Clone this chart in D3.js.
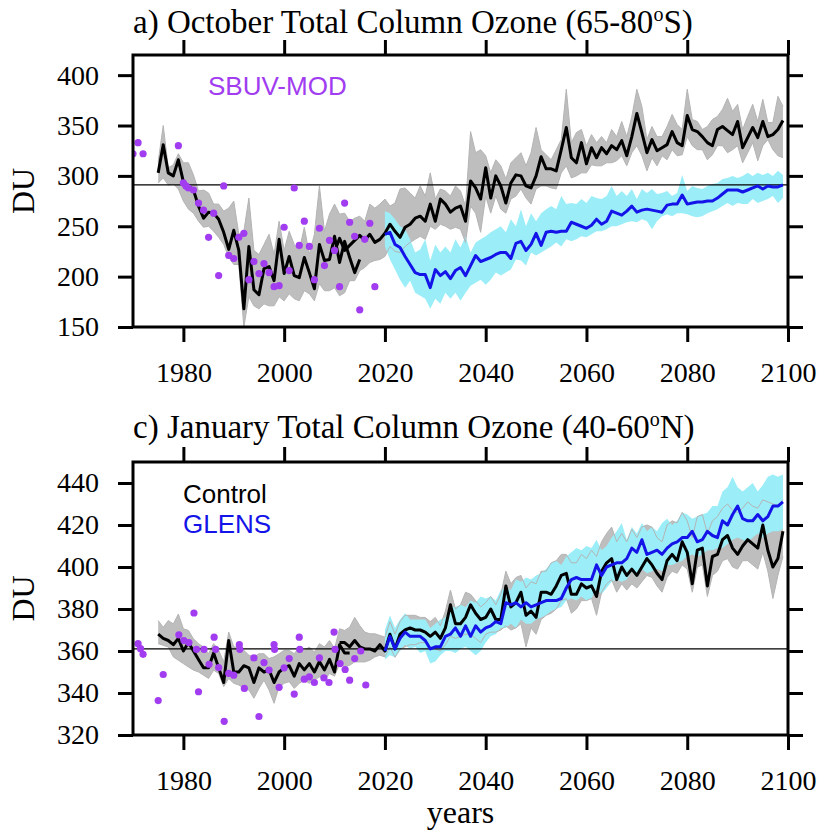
<!DOCTYPE html>
<html>
<head>
<meta charset="utf-8">
<script src="https://cdn.jsdelivr.net/npm/d3@7"></script>
<style>
  body { margin: 0; background: #fff; }
  svg { display: block; }
</style>
</head>
<body>
<div id="chart"></div>
<script>
// ---- a) October, 65-80S ----
var octHistYears = d3.range(1975, 2016);
var octHist = [303, 331, 303, 300, 316, 294, 290, 286, 270, 258,
  264, 263, 257, 244, 227, 246, 226, 168, 230, 187,
  182, 208, 210, 196, 237, 203, 220, 201, 199, 219,
  204, 188, 232, 216, 217, 240, 214, 235, 219, 204, 217];

var octCtlYears = d3.range(2010, 2100);
var octCtl = [225, 238, 226, 231, 236, 241, 236, 242, 234, 237,
  243, 252, 245, 239, 249, 252, 258, 260, 255, 272,
  255, 277, 272, 264, 268, 270, 255, 295, 288, 277,
  308, 278, 300, 290, 273, 293, 301, 300, 290, 288,
  300, 319, 307, 307, 305, 326, 348, 318, 313, 333,
  312, 328, 318, 328, 322, 330, 326, 335, 320, 339,
  362, 343, 323, 336, 325, 328, 331, 344, 333, 330,
  360, 346, 344, 339, 333, 330, 346, 349, 345, 341,
  354, 328, 338, 348, 338, 354, 339, 341, 346, 355];

var octGlensYears = d3.range(2020, 2100);
var octGlens = [242, 244, 232, 229, 220, 212, 204, 202, 202, 189,
  207, 201, 205, 198, 206, 209, 201, 211, 221, 215,
  217, 219, 222, 224, 224, 218, 233, 235, 226, 232,
  243, 231, 244, 245, 244, 245, 245, 254, 252, 250,
  248, 251, 257, 252, 255, 265, 263, 261, 265, 270,
  264, 266, 267, 266, 265, 264, 271, 272, 272, 281,
  272, 273, 274, 274, 275, 275, 278, 282, 286, 286,
  286, 284, 286, 288, 290, 287, 290, 289, 289, 291];

// control spread (grey), 1975-2099
var octGreyYears = d3.range(1975, 2100);
var octGreyHi = [314, 350, 308, 311, 322, 313, 313, 301, 285, 286,
  283, 272, 272, 265, 268, 275, 242, 245, 278, 226,
  222, 232, 242, 222, 255, 226, 245, 232, 226, 249,
  222, 242, 290, 245, 262, 272, 262, 263, 255, 258,
  260, 255, 272, 268, 272,
  277, 270, 273, 287, 288, 283, 278, 290, 280, 303,
  277, 287, 285, 280, 290, 285, 270, 344, 323, 326,
  320, 303, 316, 310, 297, 313, 318, 323, 310, 323,
  348, 326, 321, 316, 326, 336, 386, 333, 343, 346,
  330, 341, 333, 339, 333, 346, 339, 354, 339, 359,
  386, 369, 336, 349, 339, 339, 349, 361, 351, 346,
  386, 356, 354, 346, 349, 356, 359, 366, 377, 364,
  371, 346, 359, 371, 354, 376, 353, 353, 379, 369];
var octGreyLo = [293, 298, 291, 292, 287, 275, 267, 263, 255, 249,
  250, 245, 239, 232, 219, 212, 212, 150, 180, 171,
  168, 173, 171, 171, 180, 176, 183, 178, 176, 186,
  183, 176, 193, 186, 186, 189, 181, 184, 196, 196,
  206, 209, 214, 216, 217,
  220, 230, 225, 224, 230, 234, 237, 240, 237, 250,
  247, 252, 250, 247, 249, 247, 234, 270, 263, 244,
  280, 263, 280, 267, 263, 277, 280, 287, 278, 272,
  287, 290, 290, 288, 287, 303, 310, 298, 300, 303,
  303, 311, 310, 310, 313, 313, 315, 320, 310, 323,
  330, 320, 305, 318, 310, 320, 316, 326, 320, 321,
  339, 330, 326, 326, 316, 321, 330, 330, 323, 326,
  330, 313, 323, 333, 315, 330, 336, 326, 320, 318];

// GLENS spread (cyan), 2020-2099
var octCyanHi = [265, 263, 257, 250, 247, 237, 224, 227, 237, 216,
  232, 224, 230, 224, 237, 229, 240, 224, 234, 237,
  240, 244, 247, 250, 244, 257, 250, 267, 250, 263,
  255, 263, 267, 270, 267, 280, 272, 273, 272, 277,
  273, 280, 278, 277, 280, 290, 280, 285, 280, 287,
  277, 287, 283, 287, 282, 283, 285, 280, 283, 301,
  285, 290, 288, 287, 290, 292, 293, 297, 298, 300,
  298, 300, 303, 300, 303, 301, 303, 300, 305, 301];
var octCyanLo = [230, 217, 207, 197, 189, 196, 184, 181, 178, 168,
  178, 173, 184, 178, 184, 176, 184, 191, 194, 197,
  192, 197, 204, 201, 204, 207, 217, 216, 211, 224,
  221, 224, 227, 230, 234, 230, 237, 235, 237, 240,
  239, 242, 245, 245, 247, 250, 250, 252, 254, 255,
  254, 257, 255, 247, 255, 260, 262, 260, 263, 263,
  262, 260, 259, 260, 263, 265, 267, 270, 273, 270,
  273, 272, 272, 277, 273, 275, 277, 280, 273, 278];

var octObsYears = [1970, 1971, 1972, 1979, 1980, 1980.5, 1981, 1982, 1983, 1984,
  1985, 1986, 1987, 1988, 1989, 1990, 1991, 1992, 1993, 1994,
  1995, 1996, 1997, 1998, 1999, 2000, 2001, 2002, 2003, 2004,
  2005, 2006, 2007, 2008, 2009, 2010, 2011, 2012, 2013, 2014,
  2015, 2016, 2017, 2018];
var octObs = [322, 333, 322, 330, 293, 290, 288, 286, 273, 266,
  239, 263, 201, 290, 221, 218, 239, 243, 197, 215,
  203, 213, 204, 190, 191, 249, 206, 288, 231, 255,
  230, 197, 248, 211, 236, 226, 190, 273, 254, 240,
  167, 237, 253, 190];

// ---- c) January, 40-60N ----
var janHistYears = d3.range(1975, 2014);
var janHist = [368, 366, 365, 363, 366, 360, 364, 360, 356, 352,
  352, 359, 352, 345, 365, 350, 350, 353, 352, 345,
  352, 350, 351, 345, 350, 352, 353, 348, 354, 351,
  354, 350, 355, 351, 356, 350, 363, 359, 359];

var janCtlYears = d3.range(2011, 2100);
var janCtl = [364, 364, 362, 365, 362, 361, 361, 360, 363,
  360, 368, 361, 368, 370, 371, 370, 370, 369, 367,
  369, 366, 371, 382, 373, 373, 376, 382, 378, 375,
  376, 380, 375, 375, 391, 381, 383, 388, 377, 379,
  376, 388, 388, 387, 391, 396, 397, 387, 387, 392,
  390, 391, 386, 398, 402, 404, 394, 400, 396, 399,
  396, 400, 404, 401, 397, 394, 403, 406, 403, 412,
  407, 392, 408, 409, 391, 405, 406, 413, 415, 409,
  406, 410, 413, 411, 409, 420, 408, 400, 404, 417];

var janGlensYears = d3.range(2020, 2100);
var janGlens = [360, 367, 361, 366, 369, 367, 367, 367, 365, 361,
  362, 362, 367, 368, 371, 367, 372, 367, 372, 369,
  371, 372, 374, 373, 383, 382, 383, 381, 383, 381,
  382, 383, 384, 384, 384, 385, 390, 394, 395, 394,
  394, 394, 401, 396, 400, 401, 402, 402, 404, 409,
  407, 413, 406, 407, 408, 406, 409, 411, 412, 414,
  414, 417, 412, 413, 417, 415, 414, 422, 420, 425,
  429, 423, 422, 422, 425, 422, 424, 429, 429, 431];

var janGreyYears = d3.range(1975, 2100);
var janGreyHi = [374.5, 371.3, 374.5, 372.9, 377.6, 370.6, 369.8, 365.8, 363.5, 361.9,
  358.7, 363.5, 360.3, 354.8, 369, 361.9, 361.9, 360.3, 358, 357.2,
  358.7, 358.7, 356.4, 357.2, 358.7, 360.3, 360.3, 358.7, 361.9, 360.3,
  361.9, 359.5, 363.5, 361.9, 365, 361.1, 370.6, 369.8, 371.3, 376,
  372.1, 369, 368.2, 368.2, 367.4, 366.6,
  374, 368, 374, 377, 377, 377, 376, 376, 374, 376,
  372, 379, 389, 380, 382, 388, 387, 384, 381, 383,
  386, 382, 387, 398, 392, 395, 396, 390, 393, 392,
  398, 398, 402, 403, 406, 406, 402, 402, 406, 404,
  408, 405, 412, 416, 419, 412, 416, 412, 418, 414,
  419, 420, 419, 414, 412, 420, 422, 421, 426, 422,
  414, 424, 425, 416, 422, 424, 428, 430, 427, 426,
  428, 431, 429, 428, 432, 431, 430, 429, 432];
var janGreyLo = [363.5, 362.7, 361.9, 357.2, 355.6, 354, 352.4, 350.9, 350, 348.5,
  346.9, 350.9, 349.3, 343, 346.9, 344.6, 343.8, 342.2, 341.4, 337.5,
  342.2, 346.1, 341.4, 335.1, 343, 344.6, 345.4, 342.2, 344.6, 346.1,
  344.6, 346.1, 347.7, 346.1, 349.3, 348, 354, 352.4, 353.2, 354.8,
  354.8, 354.8, 355.6, 357.2, 358, 357.2,
  362, 357, 361, 362, 363, 363, 364, 364, 362, 361,
  360, 363, 367, 366, 367, 368, 368, 366, 364, 368,
  369, 369, 370, 372, 370, 371, 373, 362, 371, 368,
  375, 377, 378, 380, 384, 385, 378, 380, 384, 384,
  385, 377, 388, 392, 394, 388, 392, 389, 392, 390,
  393, 396, 395, 391, 388, 395, 398, 397, 401, 399,
  388, 400, 401, 386, 396, 398, 403, 404, 400, 399,
  403, 403, 401, 399, 407, 398, 385, 396, 405];

var janCyanHi = [370, 377, 371, 375, 378, 375, 375, 375, 375, 371,
  373, 375, 376, 381, 381, 382, 381, 384, 383, 386,
  385, 386, 384, 389, 390, 389, 394, 393, 395, 394,
  396, 397, 399, 402, 403, 401, 405, 407, 409, 408,
  410, 409, 413, 408, 410, 414, 417, 421, 413, 419,
  416, 421, 417, 419, 417, 421, 423, 420, 422, 426,
  425, 423, 424, 425, 426, 429, 429, 436, 438, 443,
  438, 436, 438, 440, 436, 439, 443, 444, 443, 444];
var janCyanLo = [356, 358, 357, 360, 363, 361, 362, 359, 360, 354,
  355, 358, 360, 360, 359, 361, 362, 360, 358, 360,
  364, 367, 368, 371, 371, 373, 371, 375, 373, 373,
  375, 376, 377, 379, 380, 381, 384, 385, 384, 386,
  384, 385, 390, 387, 390, 393, 394, 393, 394, 398,
  395, 399, 397, 398, 399, 398, 401, 401, 402, 403,
  405, 406, 405, 406, 408, 408, 409, 409, 411, 413,
  414, 413, 412, 414, 416, 414, 416, 417, 417, 418];

var janObsYears = [1971, 1971.5, 1972, 1975, 1976, 1979.1, 1980.1, 1981.1, 1982.1, 1982.6,
  1983, 1984.1, 1985.1, 1986.1, 1986.4, 1987, 1988.1, 1989, 1990, 1991.1,
  1991.2, 1992.1, 1994, 1995, 1996, 1997, 1998, 1998.1, 1999, 2000,
  2001, 2002, 2003, 2003.1, 2004, 2005, 2006, 2007, 2007.9, 2008.9,
  2009.9, 2010.1, 2011.1, 2012.1, 2013, 2014, 2015.2, 2016.2];
var janObs = [363.5, 361.1, 358.4, 336.4, 348.8, 367.7, 365, 364, 378.1, 360.8,
  340.6, 360.8, 353.7, 366.6, 360.8, 352.1, 326.5, 349.3, 348.5, 363,
  360.8, 342.2, 356.7, 328.8, 354.5, 350.9, 363.1, 360.8, 342.7, 352,
  356.4, 339.5, 366.6, 360.8, 346.6, 347.7, 345, 356.7, 347.2, 345,
  369, 360.8, 354, 351.2, 346.1, 356.4, 360, 343.8];

var xTicks = [1980, 2000, 2020, 2040, 2060, 2080, 2100];

var serif = "'Liberation Serif', 'Times New Roman', serif";
var sans = "'Liberation Sans', Arial, sans-serif";
var purple = "#a13cf0";

var svg = d3.select("#chart").append("svg")
  .attr("width", 822)
  .attr("height", 833);

var x = d3.scaleLinear().domain([1970, 2100]).range([133, 788]);

function pts(years, vals) {
  return years.map(function(yr, i) { return {year: yr, v: vals[i]}; });
}
function band(years, lo, hi) {
  return years.map(function(yr, i) { return {year: yr, lo: lo[i], hi: hi[i]}; });
}

function drawPanel(p) {
  var y = d3.scaleLinear().domain(p.yDomain).range([p.bottom, p.top]);
  var g = svg.append("g");

  g.append("clipPath").attr("id", p.id)
    .append("rect")
    .attr("x", 133).attr("y", p.top)
    .attr("width", 655).attr("height", p.bottom - p.top);

  var plot = g.append("g").attr("clip-path", "url(#" + p.id + ")");

  var area = d3.area()
    .x(function(d) { return x(d.year); })
    .y0(function(d) { return y(d.lo); })
    .y1(function(d) { return y(d.hi); });
  var line = d3.line()
    .x(function(d) { return x(d.year); })
    .y(function(d) { return y(d.v); });

  var grey = band(p.greyYears, p.greyLo, p.greyHi);
  plot.append("path").datum(grey).attr("d", area).attr("fill", "#bebebe");
  plot.append("path").datum(band(p.glensYears, p.cyanLo, p.cyanHi))
    .attr("d", area).attr("fill", "#9beef8");

  // faint edges of the grey spread showing through the cyan
  [p.greyHi, p.greyLo].forEach(function(edge) {
    plot.append("path").datum(pts(p.greyYears, edge))
      .attr("d", line).attr("fill", "none")
      .attr("stroke", "#b4b4b4").attr("stroke-width", 1);
  });

  plot.append("line")
    .attr("x1", x(1970)).attr("x2", x(2100))
    .attr("y1", y(p.ref)).attr("y2", y(p.ref))
    .attr("stroke", "#000").attr("stroke-width", 1.3);

  plot.append("path").datum(pts(p.histYears, p.hist))
    .attr("d", line).attr("fill", "none")
    .attr("stroke", "#000").attr("stroke-width", 3).attr("stroke-linejoin", "round");
  plot.append("path").datum(pts(p.ctlYears, p.ctl))
    .attr("d", line).attr("fill", "none")
    .attr("stroke", "#000").attr("stroke-width", 3).attr("stroke-linejoin", "round");
  plot.append("path").datum(pts(p.glensYears, p.glens))
    .attr("d", line).attr("fill", "none")
    .attr("stroke", "#1414e8").attr("stroke-width", 3).attr("stroke-linejoin", "round");

  plot.selectAll("circle.obs")
    .data(pts(p.obsYears, p.obs))
    .enter().append("circle")
    .attr("class", "obs")
    .attr("cx", function(d) { return x(d.year); })
    .attr("cy", function(d) { return y(d.v); })
    .attr("r", 3.6)
    .attr("fill", purple);

  // axes, ticks outward on all four sides
  var left = g.append("g").attr("transform", "translate(133,0)")
    .call(d3.axisLeft(y).tickValues(p.yTicks).tickSize(15).tickSizeOuter(0).tickPadding(19));
  var right = g.append("g").attr("transform", "translate(788,0)")
    .call(d3.axisRight(y).tickValues(p.yTicks).tickSize(15).tickSizeOuter(0).tickFormat(""));
  var bottom = g.append("g").attr("transform", "translate(0," + p.bottom + ")")
    .call(d3.axisBottom(x).tickValues(xTicks).tickSize(15).tickSizeOuter(0).tickPadding(20).tickFormat(d3.format("d")));
  var top = g.append("g").attr("transform", "translate(0," + p.top + ")")
    .call(d3.axisTop(x).tickValues(xTicks).tickSize(15).tickSizeOuter(0).tickFormat(""));

  [left, right, bottom, top].forEach(function(a) {
    a.select(".domain").remove();
    a.selectAll(".tick line").attr("stroke", "#000").attr("stroke-width", 3);
    a.selectAll(".tick text")
      .attr("fill", "#000")
      .style("font-family", serif)
      .style("font-size", "28px");
  });

  g.append("rect")
    .attr("x", 133).attr("y", p.top)
    .attr("width", 655).attr("height", p.bottom - p.top)
    .attr("fill", "none").attr("stroke", "#000").attr("stroke-width", 3);

  var title = g.append("text")
    .attr("x", 133).attr("y", p.titleY)
    .style("font-family", serif).style("font-size", "33px");
  title.append("tspan").text(p.title[0]);
  title.append("tspan").attr("dy", -12).style("font-size", "20px").text("o");
  title.append("tspan").attr("dy", 12).text(p.title[1]);

  g.append("text")
    .attr("transform", "translate(34," + ((p.top + p.bottom) / 2) + ") rotate(-90)")
    .attr("text-anchor", "middle")
    .style("font-family", serif).style("font-size", "32px")
    .text("DU");

  return g;
}

var ga = drawPanel({
  id: "clipA", top: 55, bottom: 327, yDomain: [150, 420],
  yTicks: [150, 200, 250, 300, 350, 400], ref: 291, titleY: 33,
  title: ["a) October Total Column Ozone (65-80", "S)"],
  histYears: octHistYears, hist: octHist,
  ctlYears: octCtlYears, ctl: octCtl,
  glensYears: octGlensYears, glens: octGlens,
  greyYears: octGreyYears, greyHi: octGreyHi, greyLo: octGreyLo,
  cyanHi: octCyanHi, cyanLo: octCyanLo,
  obsYears: octObsYears, obs: octObs
});

var gc = drawPanel({
  id: "clipC", top: 462, bottom: 735, yDomain: [320, 450],
  yTicks: [320, 340, 360, 380, 400, 420, 440], ref: 361, titleY: 438,
  title: ["c) January Total Column Ozone (40-60", "N)"],
  histYears: janHistYears, hist: janHist,
  ctlYears: janCtlYears, ctl: janCtl,
  glensYears: janGlensYears, glens: janGlens,
  greyYears: janGreyYears, greyHi: janGreyHi, greyLo: janGreyLo,
  cyanHi: janCyanHi, cyanLo: janCyanLo,
  obsYears: janObsYears, obs: janObs
});

ga.append("text")
  .attr("x", 208).attr("y", 95)
  .attr("fill", purple)
  .style("font-family", sans).style("font-size", "26px")
  .text("SBUV-MOD");

gc.append("text")
  .attr("x", 183).attr("y", 503)
  .attr("fill", "#000")
  .style("font-family", sans).style("font-size", "26px")
  .text("Control");
gc.append("text")
  .attr("x", 183).attr("y", 533)
  .attr("fill", "#1414e8")
  .style("font-family", sans).style("font-size", "26px")
  .text("GLENS");

svg.append("text")
  .attr("x", 460.5).attr("y", 823)
  .attr("text-anchor", "middle")
  .style("font-family", serif).style("font-size", "32px")
  .text("years");
</script>
</body>
</html>
